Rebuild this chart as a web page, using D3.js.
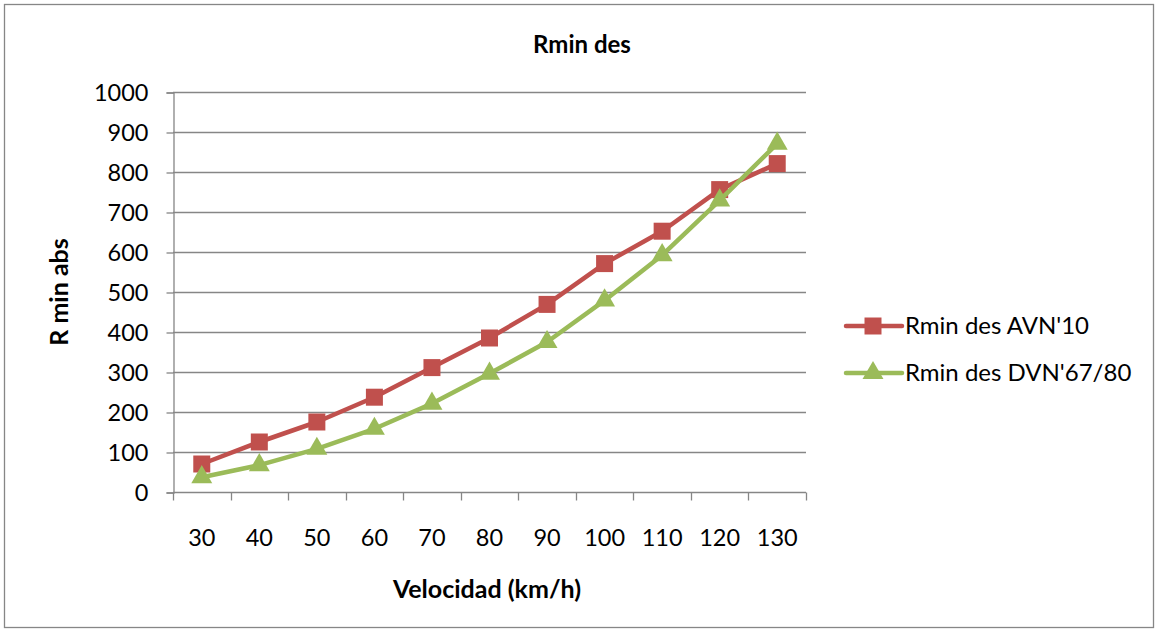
<!DOCTYPE html>
<html>
<head>
<meta charset="utf-8">
<script src="https://cdn.jsdelivr.net/npm/d3@7"></script>
<style>
  html, body { margin: 0; padding: 0; background: #fff; }
  svg { display: block; font-family: Lato, "Open Sans", sans-serif; }
</style>
</head>
<body>
<svg id="chart" width="1158" height="632"></svg>
<script>
// Speeds on the x axis (km/h)
const categories = [30, 40, 50, 60, 70, 80, 90, 100, 110, 120, 130];
// Minimum desirable radius, two standards
const avnValues = [70, 125, 175, 237, 311, 385, 469, 571, 652, 756, 821];
const dvnValues = [37, 67, 108, 158, 221, 296, 375, 479, 592, 729, 871];
const yTicks = [0, 100, 200, 300, 400, 500, 600, 700, 800, 900, 1000];
const seriesNames = ["Rmin des AVN'10", "Rmin des DVN'67/80"];

const series = [
  { name: seriesNames[0], values: avnValues, color: "#C0504D", marker: "square" },
  { name: seriesNames[1], values: dvnValues, color: "#9BBB59", marker: "triangle" }
];

const svg = d3.select("#chart");
const W = 1158, H = 632;
const FONT = 23.5;

// outer chart frame
svg.append("rect")
  .attr("x", 4.5).attr("y", 4.5)
  .attr("width", W - 9).attr("height", H - 9)
  .attr("fill", "#fff").attr("stroke", "#868686").attr("stroke-width", 1.3);

const plot = { left: 173, right: 806, top: 92, bottom: 492 };

const x = d3.scaleBand()
  .domain(categories)
  .range([plot.left, plot.right])
  .padding(0);

const y = d3.scaleLinear()
  .domain([0, 1000])
  .range([plot.bottom, plot.top]);

// horizontal gridlines
svg.append("g")
  .selectAll("line")
  .data(yTicks.filter(d => d > 0))
  .join("line")
  .attr("x1", plot.left).attr("x2", plot.right)
  .attr("y1", d => Math.round(y(d)) + 0.5).attr("y2", d => Math.round(y(d)) + 0.5)
  .attr("stroke", "#868686").attr("stroke-width", 1.3);

// y axis
const yAxis = d3.axisLeft(y).tickValues(yTicks).tickSize(7).tickPadding(18).tickFormat(d3.format("d"));
const gy = svg.append("g")
  .attr("transform", `translate(${plot.left + 0.5},0.5)`)
  .call(yAxis);
gy.select(".domain").attr("stroke", "#868686").attr("stroke-width", 1.3);
gy.selectAll(".tick line").attr("stroke", "#868686").attr("stroke-width", 1.3);
gy.selectAll(".tick text").attr("font-size", FONT).attr("fill", "#000")
  .attr("font-family", "Lato, 'Open Sans', sans-serif");

// x axis: ticks sit on category boundaries
const gx = svg.append("g")
  .attr("transform", `translate(0,${plot.bottom + 0.5})`);
gx.append("line")
  .attr("x1", plot.left).attr("x2", plot.right)
  .attr("stroke", "#868686").attr("stroke-width", 1.3);
const boundaries = categories.map(c => x(c)).concat([x(categories[categories.length - 1]) + x.bandwidth()]);
gx.selectAll("line.tk")
  .data(boundaries)
  .join("line").attr("class", "tk")
  .attr("x1", d => Math.round(d) + 0.5).attr("x2", d => Math.round(d) + 0.5)
  .attr("y1", 0).attr("y2", 8)
  .attr("stroke", "#868686").attr("stroke-width", 1.3);
gx.selectAll("text")
  .data(categories)
  .join("text")
  .attr("x", d => x(d) + x.bandwidth() / 2)
  .attr("y", 53)
  .attr("text-anchor", "middle")
  .attr("font-size", FONT)
  .attr("fill", "#000")
  .text(d => d);

// series lines and markers
const line = d3.line()
  .x((d, i) => x(categories[i]) + x.bandwidth() / 2)
  .y(d => y(d));

const sqSym = d3.symbol().type(d3.symbolSquare).size(17 * 17);
const triSym = d3.symbol().type(d3.symbolTriangle).size(190);

series.forEach(s => {
  const g = svg.append("g");
  g.append("path")
    .datum(s.values)
    .attr("d", line)
    .attr("fill", "none")
    .attr("stroke", s.color)
    .attr("stroke-width", 4.5)
    .attr("stroke-linejoin", "round");
  g.selectAll("path.m")
    .data(s.values)
    .join("path").attr("class", "m")
    .attr("transform", (d, i) => `translate(${x(categories[i]) + x.bandwidth() / 2},${y(d)})`)
    .attr("d", s.marker === "square" ? sqSym : triSym)
    .attr("fill", s.color);
});

// legend
const legend = svg.append("g");
series.forEach((s, i) => {
  const ly = 326 + i * 47;
  legend.append("line")
    .attr("x1", 846).attr("x2", 902).attr("y1", ly).attr("y2", ly)
    .attr("stroke", s.color).attr("stroke-width", 4.5).attr("stroke-linecap", "round");
  legend.append("path")
    .attr("transform", `translate(873,${ly})`)
    .attr("d", s.marker === "square" ? sqSym : triSym)
    .attr("fill", s.color);
  legend.append("text")
    .attr("x", 905).attr("y", ly + 8)
    .attr("font-size", 24).attr("fill", "#000")
    .text(s.name);
});

// titles
svg.append("text")
  .attr("x", 582).attr("y", 53)
  .attr("text-anchor", "middle")
  .attr("font-size", 24).attr("font-weight", "bold")
  .text("Rmin des");

svg.append("text")
  .attr("x", 487).attr("y", 598)
  .attr("text-anchor", "middle")
  .attr("font-size", 25).attr("font-weight", "bold")
  .text("Velocidad (km/h)");

svg.append("text")
  .attr("transform", "translate(68,292) rotate(-90)")
  .attr("text-anchor", "middle")
  .attr("font-size", 25).attr("font-weight", "bold")
  .text("R min abs");
</script>
</body>
</html>
